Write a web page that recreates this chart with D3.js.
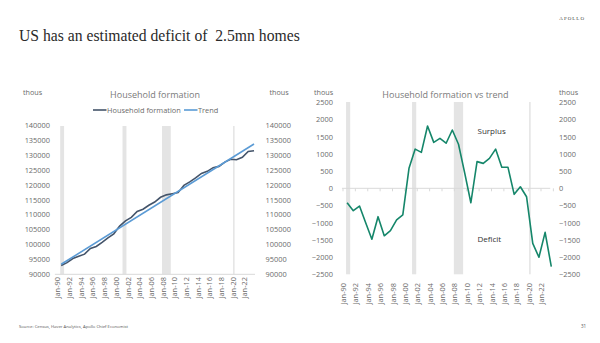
<!DOCTYPE html>
<html>
<head>
<meta charset="utf-8">
<script src="https://cdn.jsdelivr.net/npm/d3@7"></script>
<style>
  body { margin: 0; background: #fff; }
  svg { display: block; }
  text { font-family: "Open Sans", "Noto Sans", sans-serif; }
</style>
</head>
<body>
<svg id="slide" width="600" height="343"></svg>
<script>
// annual observations, 1990-2023 (thousands of households)
const years = [1990, 1991, 1992, 1993, 1994, 1995, 1996, 1997, 1998, 1999,
  2000, 2001, 2002, 2003, 2004, 2005, 2006, 2007, 2008, 2009,
  2010, 2011, 2012, 2013, 2014, 2015, 2016, 2017, 2018, 2019,
  2020, 2021, 2022, 2023];

const households = [92930, 93920, 95280, 96010, 96750, 98630, 99300, 100670, 102200, 103560,
  106140, 107920, 109050, 111030, 111780, 113120, 114200, 115800, 116610, 117000,
  117350, 119770, 120940, 122300, 123790, 124490, 125710, 126140, 127580, 128510,
  128380, 129200, 131140, 131360];

// linear trend: level at the first and last year
const trendYears = [1990, 2023];
const trendLevels = [93350, 133640];

// household formation minus trend
const gap = [-420, -650, -515, -1000, -1480, -825, -1380, -1230, -920, -775,
  580, 1140, 1045, 1810, 1335, 1450, 1310, 1695, 1280, 450,
  -420, 775, 725, 870, 1140, 610, 610, -175, 45, -245,
  -1600, -2005, -1280, -2280];

const recessions = [
  ["1990-07-01", "1991-03-01"],
  ["2001-03-01", "2001-11-01"],
  ["2007-12-01", "2009-06-01"],
  ["2020-02-01", "2020-04-01"]
];

const tickYears = [1990, 1992, 1994, 1996, 1998, 2000, 2002, 2004, 2006, 2008,
  2010, 2012, 2014, 2016, 2018, 2020, 2022];
const levelTicks = [90000, 95000, 100000, 105000, 110000, 115000, 120000, 125000, 130000, 135000, 140000];
const gapTicks = [-2500, -2000, -1500, -1000, -500, 0, 500, 1000, 1500, 2000, 2500];

const svg = d3.select("#slide");
const labelColor = "#6b6b6b";
const bandColor = "#e4e4e4";
const axisColor = "#d9d9d9";
const obsDate = (y) => new Date(y, 8, 1);
const jan = (y) => new Date(y, 0, 1);
const fmtJan = d3.timeFormat("Jan-%y");

// slide header
const title = svg.append("text")
  .attr("x", 19)
  .attr("y", 41)
  .attr("fill", "#2a2a2a")
  .style("font-family", "'Liberation Serif', 'DejaVu Serif', serif")
  .style("white-space", "pre")
  .style("font-size", "15px")
  .text("US has an estimated deficit of  2.5mn homes");
const tw = title.node().getComputedTextLength();
title.style("font-size", (15 * 281 / tw) + "px");

svg.append("text")
  .attr("x", 585)
  .attr("y", 20)
  .attr("text-anchor", "end")
  .attr("fill", "#444")
  .style("font-family", "'Liberation Serif', serif")
  .style("font-size", "5px")
  .style("letter-spacing", "1px")
  .text("APOLLO");

// footer
svg.append("text")
  .attr("x", 19)
  .attr("y", 327.5)
  .attr("fill", "#555")
  .style("font-size", "4.2px")
  .text("Source: Census, Haver Analytics, Apollo Chief Economist");

svg.append("text")
  .attr("x", 581)
  .attr("y", 327.5)
  .attr("fill", "#555")
  .style("font-size", "4.5px")
  .text("31");

function drawBands(g, x, top, bottom) {
  g.append("g")
    .selectAll("rect")
    .data(recessions)
    .join("rect")
    .attr("x", (d) => x(new Date(d[0])))
    .attr("width", (d) => Math.max(1.5, x(new Date(d[1])) - x(new Date(d[0]))))
    .attr("y", top)
    .attr("height", bottom - top)
    .attr("fill", bandColor);
}

function yLabels(g, y, leftX, rightX) {
  const left = g.append("g")
    .attr("transform", `translate(${leftX},0)`)
    .call(d3.axisLeft(y).tickValues(y.ticksList).tickFormat(d3.format("d")).tickSize(0).tickPadding(0));
  const right = g.append("g")
    .attr("transform", `translate(${rightX},0)`)
    .call(d3.axisRight(y).tickValues(y.ticksList).tickFormat(d3.format("d")).tickSize(0).tickPadding(0));
  [left, right].forEach((a) => {
    a.select(".domain").remove();
    a.selectAll("text").attr("fill", labelColor).style("font-size", "7.4px");
  });
}

function xLabels(g, x, yPos) {
  const a = g.append("g")
    .attr("transform", `translate(0,${yPos})`)
    .call(d3.axisBottom(x).tickValues(tickYears.map(jan)).tickFormat(fmtJan).tickSize(0));
  a.select(".domain").remove();
  a.selectAll("text")
    .attr("transform", "rotate(-90)")
    .attr("text-anchor", "end")
    .attr("x", 0)
    .attr("y", 0)
    .attr("dy", "0.35em")
    .attr("fill", labelColor)
    .style("font-size", "7.4px");
}

function unitLabels(g, xs, y) {
  g.selectAll(null)
    .data(xs)
    .join("text")
    .attr("x", (d) => d)
    .attr("y", y)
    .attr("fill", labelColor)
    .style("font-size", "7.2px")
    .text("thous");
}

// ---- left panel: household formation vs trend level ----
const left = svg.append("g");
const xL = d3.scaleTime().domain([jan(1990), jan(2022)]).range([57.3, 244.3]);
const yL = d3.scaleLinear().domain([90000, 140000]).range([274.3, 125]);
yL.ticksList = levelTicks;

drawBands(left, xL, 126, 274.3);

left.append("line")
  .attr("x1", xL(new Date(1989, 7, 1)))
  .attr("x2", xL(new Date(2023, 10, 1)))
  .attr("y1", yL(90000))
  .attr("y2", yL(90000))
  .attr("stroke", axisColor);

yLabels(left, yL, 50, 265.5);
xLabels(left, xL, 277);
unitLabels(left, [23, 269.5], 95);

left.append("text")
  .attr("x", 155)
  .attr("y", 98)
  .attr("text-anchor", "middle")
  .attr("fill", "#7a7a7a")
  .style("font-size", "9px")
  .text("Household formation");

const lineL = d3.line().x((d) => xL(obsDate(d[0]))).y((d) => yL(d[1]));

left.append("path")
  .datum(years.map((y, i) => [y, households[i]]))
  .attr("d", lineL)
  .attr("fill", "none")
  .attr("stroke", "#44546a")
  .attr("stroke-width", 1.6);

left.append("path")
  .datum(trendYears.map((y, i) => [y, trendLevels[i]]))
  .attr("d", lineL)
  .attr("fill", "none")
  .attr("stroke", "#5b9bd5")
  .attr("stroke-width", 1.6);

// legend
const legend = left.append("g").attr("transform", "translate(0,110)");
const legendItems = [
  { name: "Household formation", color: "#44546a", x: 93 },
  { name: "Trend", color: "#5b9bd5", x: 184 }
];
legendItems.forEach((d) => {
  legend.append("line")
    .attr("x1", d.x).attr("x2", d.x + 13.5)
    .attr("stroke", d.color).attr("stroke-width", 1.6);
  legend.append("text")
    .attr("x", d.x + 14)
    .attr("dy", "0.35em")
    .attr("fill", labelColor)
    .style("font-size", "7.4px")
    .text(d.name);
});

// ---- right panel: gap to trend ----
const right = svg.append("g");
const xR = d3.scaleTime().domain([jan(1990), jan(2022)]).range([343, 541]);
const yR = d3.scaleLinear().domain([-2500, 2500]).range([274.3, 102.3]);
yR.ticksList = gapTicks;

drawBands(right, xR, 102, 274.3);

right.append("line")
  .attr("x1", xR(new Date(1989, 10, 1)))
  .attr("x2", xR(new Date(2023, 6, 1)))
  .attr("y1", yR(0))
  .attr("y2", yR(0))
  .attr("stroke", axisColor);

right.append("g")
  .selectAll("line")
  .data(tickYears.concat([2024]).map(jan))
  .join("line")
  .attr("x1", (d) => xR(d))
  .attr("x2", (d) => xR(d))
  .attr("y1", yR(0))
  .attr("y2", yR(0) + 3)
  .attr("stroke", axisColor);

yLabels(right, yR, 333, 559);
xLabels(right, xR, 283);
unitLabels(right, [314, 559], 95);

right.append("text")
  .attr("x", 445.5)
  .attr("y", 98)
  .attr("text-anchor", "middle")
  .attr("fill", "#7a7a7a")
  .style("font-size", "9px")
  .text("Household formation vs trend");

right.append("path")
  .datum(years.map((y, i) => [y, gap[i]]))
  .attr("d", d3.line().x((d) => xR(obsDate(d[0]))).y((d) => yR(d[1])))
  .attr("fill", "none")
  .attr("stroke", "#15866a")
  .attr("stroke-width", 1.6)
  .attr("stroke-linejoin", "round");

right.selectAll(null)
  .data([{ t: "Surplus", v: 1650 }, { t: "Deficit", v: -1480 }])
  .join("text")
  .attr("x", 477.5)
  .attr("y", (d) => yR(d.v))
  .attr("dy", "0.35em")
  .attr("fill", "#333")
  .style("font-size", "8px")
  .text((d) => d.t);
</script>
</body>
</html>
